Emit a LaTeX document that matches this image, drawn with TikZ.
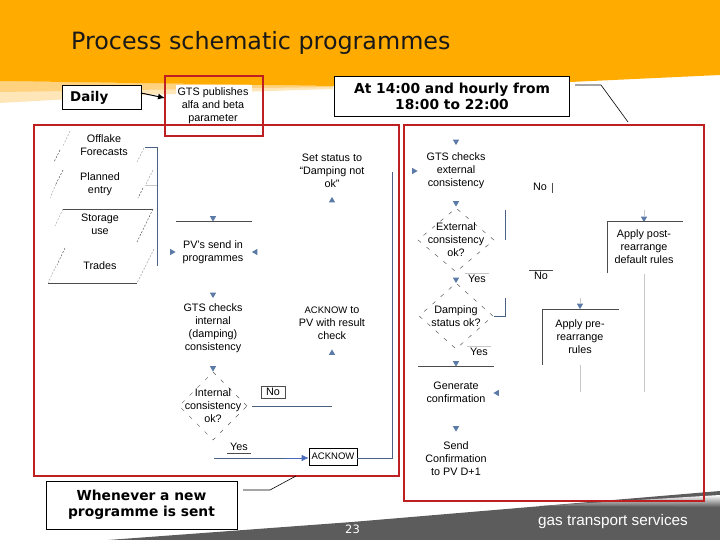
\documentclass[tikz,border=0pt]{standalone}
\usepackage{fontspec}
\setmainfont{Liberation Sans}
\newfontfamily\verdfont{DejaVu Sans}
\usetikzlibrary{shapes.geometric,arrows.meta}
\definecolor{bandorange}{HTML}{FFAB00}
\definecolor{bandlight}{HTML}{FFD27F}
\definecolor{bandpale}{HTML}{FFE6B8}
\definecolor{framered}{HTML}{BE2022}
\definecolor{flowblue}{HTML}{5B7AA5}
\definecolor{ackblue}{HTML}{4A69B8}
\definecolor{footgrey}{HTML}{5C5C5C}
\tikzset{
  flowtext/.style={align=center,inner sep=0pt,font=\fontsize{10.8}{12.9}\selectfont},
  tagbox/.style={draw=black,fill=white,line width=.8pt,align=center,inner sep=0pt,font=\verdfont\bfseries\fontsize{13.8}{16}\selectfont},
  redframe/.style={draw=framered,line width=2.2pt},
  decision/.style={diamond,draw=black!65,dash pattern=on 4pt off 7pt,line width=.5pt,inner sep=0pt},
  tipdown/.style={regular polygon,regular polygon sides=3,shape border rotate=180,fill=flowblue,inner sep=0pt,minimum size=7.2pt},
  tipup/.style={regular polygon,regular polygon sides=3,fill=flowblue,inner sep=0pt,minimum size=7.2pt},
  tipright/.style={regular polygon,regular polygon sides=3,shape border rotate=-90,fill=flowblue,inner sep=0pt,minimum size=7.2pt},
  tipleft/.style={regular polygon,regular polygon sides=3,shape border rotate=90,fill=flowblue,inner sep=0pt,minimum size=7.2pt},
  flowline/.style={draw=flowblue!80!black,line width=.6pt},
  paleline/.style={draw=black!22,line width=.6pt},
  inkline/.style={draw=black!70,line width=.6pt},
  slant/.style={draw=black!65,dash pattern=on 2pt off 1.5pt,line width=.5pt},
  leader/.style={draw=black,line width=.6pt}
}
\begin{document}
\begin{tikzpicture}[x=1pt,y=-1pt]
\useasboundingbox (0,0) rectangle (720,540);
\clip (0,0) rectangle (720,540);
% top band
\fill[bandpale] (0,81) -- (333,86) -- (333,89) -- (143,95) -- (0,103) -- cycle;
\fill[bandlight] (0,81) -- (333,86) -- (333,87) -- (0,92) -- cycle;
\fill[bandorange] (0,0) -- (720,0) -- (720,75) -- (570,82) -- (333,86) -- (0,81) -- cycle;
% foot band
\fill[footgrey] (108,540) -- (352,522) -- (720,491) -- (720,540) -- cycle;
\shade[top color=white,bottom color=footgrey] (540,506) -- (720,495) -- (720,507) -- cycle;
\node[font=\verdfont\fontsize{23.8}{28}\selectfont,text=black!90,anchor=base west,inner sep=0pt] (title) at (71,49.5) {Process schematic programmes};
\node[font=\fontsize{15.3}{18}\selectfont,text=white,anchor=west,inner sep=0pt] (logo) at (538,522) {gas transport services};
\node[font=\verdfont\fontsize{11.5}{14}\selectfont,text=white,inner sep=0pt] (pageno) at (352.5,529) {23};

% frames
\node[fill=white,minimum width=76pt,minimum height=16pt,inner sep=0pt] (pubback) at (214,93) {};
\draw[redframe] (34,125) rectangle (399,476);
\draw[redframe] (404,125) rectangle (704,501);
\draw[redframe] (165,76) rectangle (263,136);

% tag boxes
\node[tagbox,minimum width=79pt,minimum height=24pt] (daily) at (101.5,97.5) {};
\node[font=\verdfont\bfseries\fontsize{13.4}{16}\selectfont,anchor=west,inner sep=0pt] (dailytext) at (70,97.5) {Daily};
\node[tagbox,minimum width=235pt,minimum height=40pt] (hourly) at (452,96) {At 14:00 and hourly from\\18:00 to 22:00};
\node[tagbox,minimum width=191pt,minimum height=48pt] (newprog) at (141.5,505) {Whenever a new\\programme is sent};

% left column
\node[flowtext] (offlake) at (104,145) {Offlake\\Forecasts};
\node[flowtext] (planned) at (100,184) {Planned\\entry};
\node[flowtext] (storage) at (100,224) {Storage\\use};
\node[flowtext] (trades) at (100,265.5) {Trades};
\node[flowtext] (publish) at (213,106) {GTS publishes\\alfa and beta\\parameter};
\node[flowtext] (pvsend) at (213,252) {PV's send in\\programmes};
\node[flowtext] (internal) at (213,328) {GTS checks\\internal\\(damping)\\consistency};
\node[decision,minimum width=68pt,minimum height=68pt] (intok) at (213,406) {};
\node[flowtext] at (intok) {Internal\\consistency\\ok?};
\node[flowtext] (intyes) at (239,446.5) {Yes};
\node[draw=black!70,line width=.6pt,minimum width=24pt,minimum height=12pt,inner sep=0pt,font=\fontsize{10.8}{12.9}\selectfont] (intno) at (273,392) {No};
\node[draw=black,line width=.6pt,minimum width=48pt,minimum height=17pt,inner sep=0pt,font=\fontsize{9.5}{12}\selectfont] (ackbox) at (333,456.5) {ACKNOW};

% middle column
\node[flowtext] (setstatus) at (332,170.5) {Set status to\\``Damping not\\ok''};
\node[flowtext] (ackto) at (332,323) {{\fontsize{9.5}{12}\selectfont ACKNOW} to\\PV with result\\check};

% right column
\node[flowtext] (external) at (456,170.5) {GTS checks\\external\\consistency};
\node[decision,minimum width=76pt,minimum height=64pt] (extok) at (456,240) {};
\node[flowtext] at (extok) {External\\consistency\\ok?};
\node[decision,minimum width=74pt,minimum height=66pt] (damok) at (456,316) {};
\node[flowtext] at (damok) {Damping\\status ok?};
\node[flowtext] (extyes) at (477,279) {Yes};
\node[flowtext] (damyes) at (479,352) {Yes};
\node[flowtext] (confirm) at (456,392.5) {Generate\\confirmation};
\node[flowtext] (sendconf) at (456,459) {Send\\Confirmation\\to PV D+1};
\node[flowtext] (extno) at (540,187) {No};
\node[flowtext] (damno) at (541,276) {No};
\node[flowtext] (postrules) at (644,247) {Apply post-\\rearrange\\default rules};
\node[flowtext] (prerules) at (580,337) {Apply pre-\\rearrange\\rules};

% tips
\node[tipdown] (t1) at (213,218) {};
\node[tipdown] (t2) at (213,294.5) {};
\node[tipdown] (t3) at (213,368) {};
\node[tipright] (t4) at (172,252) {};
\node[tipleft] (t5) at (255.5,252) {};
\node[tipup] (t6) at (332,200.5) {};
\node[tipup] (t7) at (332,353) {};
\node[tipdown] (t8) at (456,141.5) {};
\node[tipright] (t9) at (414,171) {};
\node[tipdown] (t10) at (456,203) {};
\node[tipdown] (t11) at (456,279.5) {};
\node[tipdown] (t12) at (456,363) {};
\node[tipleft] (t13) at (497,393) {};
\node[tipdown] (t14) at (456,428) {};
\node[tipdown] (t15) at (644,218.5) {};
\node[tipdown] (t16) at (580,305.5) {};

% arrows
\coordinate (dailyout) at (141,93);
\coordinate (pubin) at (165,98);
\coordinate (yesout) at (214,458);
\draw[leader,-{Latex[length=7pt,width=6pt]},line width=1pt] (dailyout) -- (pubin);
\draw[flowline] (yesout) -- (285,458);
\draw[draw=ackblue,line width=.8pt,-{Latex[length=7pt,width=6.5pt]}] (285,458) -- (ackbox.west|-285,458);

% leaders
\coordinate (hourlyend) at (628,122);
\coordinate (newprogend) at (296,476);
\draw[leader] (575,85) -- (601,85) -- (hourlyend);
\draw[leader] (243,490) -- (270,490) -- (newprogend);

% slanted fragments
\draw[slant,black!35] (70,131) -- (63,146);
\draw[slant] (60,150) -- (54,162);
\draw[slant,black!35] (144,148) -- (137,162);
\draw[slant] (63,170) -- (56,184);
\draw[slant,black!35] (56,184) -- (50,198);
\draw[slant,black!35] (153,170) -- (146,184);
\draw[slant] (143,188) -- (138,198);
\draw[inkline] (63,209) -- (153,209);
\draw[slant,black!35] (63,209) -- (55,226);
\draw[slant] (153,209) -- (137,242);
\draw[slant] (65,248) -- (57,265);
\draw[slant,black!35] (154,249) -- (137,283);
\draw[inkline] (48,283) -- (137,283);
\draw[slant,black!35] (56,266) -- (48,283);

% bracket
\draw[flowline] (145,147) -- (157,147) -- (157,266);
\draw[paleline] (145,185) -- (157,185);

% box fragments
\draw[inkline] (176,221) -- (252,221);
\draw[flowline] (252,406) -- (332,406);
\draw[inkline] (227,453) -- (251,453);
\draw[flowline] (357,458) -- (392,458) -- (392,172);
\draw[paleline] (465,273) -- (489,273);
\draw[paleline] (467,346) -- (491,346);
\draw[inkline] (418,366) -- (494,366);
\draw[inkline] (552.5,183) -- (552.5,193);
\draw[inkline] (529,270) -- (553,270);
\draw[flowline] (505,210) -- (505,240);
\draw[flowline] (505,298) -- (505,316) -- (494,316);
\draw[inkline] (607,273) -- (607,221) -- (683,221);
\draw[paleline] (644,210) -- (t15);
\draw[paleline] (644,274) -- (644,392);
\draw[inkline] (542,365) -- (542,309) -- (619,309);
\draw[paleline] (580,298) -- (t16);
\draw[paleline] (580,365) -- (580,392);
\end{tikzpicture}
\end{document}
